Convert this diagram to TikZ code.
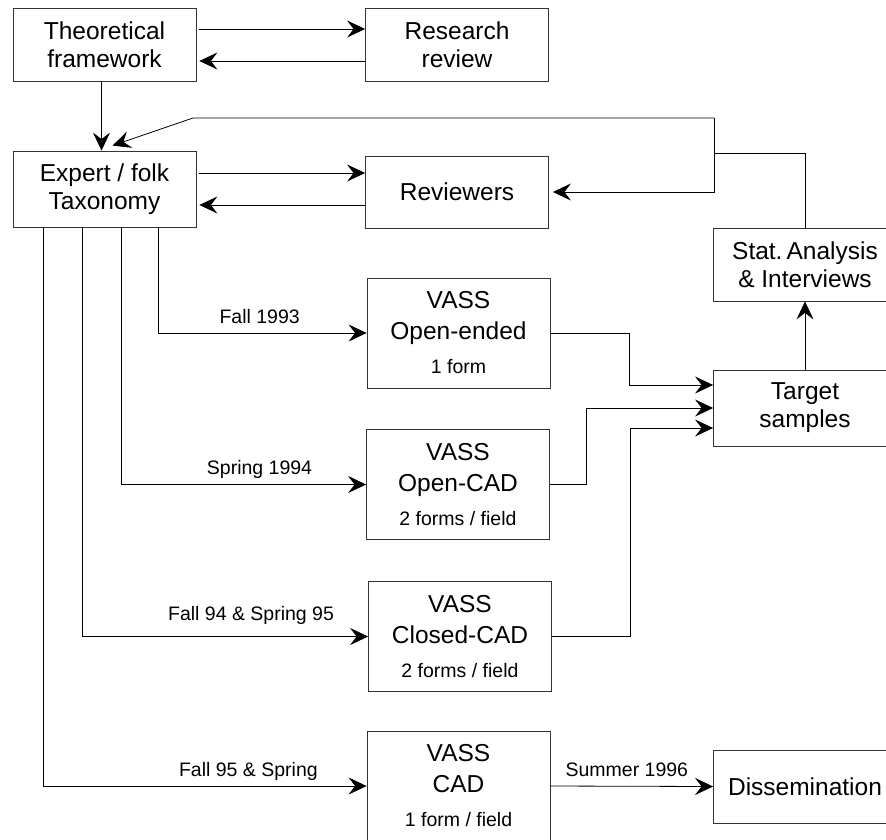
\documentclass[tikz,border=0pt]{standalone}
\usepackage{fontspec}
\setmainfont{Liberation Sans}
\usetikzlibrary{arrows.meta,calc}

\newcommand{\formtext}[1]{{\fontsize{19.5}{31}\selectfont #1}}

\begin{document}
\begin{tikzpicture}[
    x=1pt, y=-1pt,
    box/.style={rectangle, draw=black!80, line width=0.8pt, minimum width=183pt, minimum height=73pt, inner sep=0pt, align=center, font=\fontsize{24.5}{28}\selectfont},
    vass/.style={box, minimum height=110pt, font=\fontsize{24.5}{31}\selectfont},
    period/.style={anchor=base, yshift=10pt, font=\fontsize{19.5}{22}\selectfont},
    arrow/.style={-{Stealth[length=18pt, width=17pt, inset=6.5pt]}, line width=0.8pt},
    link/.style={line width=0.8pt}
]
    \useasboundingbox (0,0) rectangle (886,839);
    \clip (0,0) rectangle (886,839);

    % Top rows
    \node[box] (theory) at (104.5,45) {Theoretical\\framework};
    \node[box] (research) at (457,45) {Research\\review};
    \node[box, minimum height=76pt] (expert) at (104.5,189) {Expert / folk\\Taxonomy};
    \node[box, minimum height=72pt] (reviewers) at (457,192) {Reviewers};

    % VASS column
    \node[vass] (openended) at (458.5,333) {VASS\\Open-ended\\[3pt]\formtext{1 form}};
    \node[vass] (opencad) at (458,484.5) {VASS\\Open-CAD\\[3pt]\formtext{2 forms / field}};
    \node[vass] (closedcad) at (460,636.5) {VASS\\Closed-CAD\\[3pt]\formtext{2 forms / field}};
    \node[vass] (cad) at (458.5,786) {VASS\\CAD\\[3pt]\formtext{1 form / field}};

    % Right column
    \node[box] (stat) at (805,264.5) {Stat.\,Analysis\\\& Interviews};
    \node[box, minimum height=76pt] (target) at (805,408) {Target\\samples};
    \node[box] (dissem) at (805,786.5) {Dissemination};

    % Feedback loop
    \coordinate (fbtop) at (714,118);
    \coordinate (fbbend) at (193,118);
    \coordinate (fbsplit) at (714,153);

    % Arrows
    \draw[arrow] ($(theory.east)+(3,-16)$) -- ($(research.west)+(0,-16)$);
    \draw[arrow] ($(research.west)+(0,16)$) -- ($(theory.east)+(3,16)$);
    \draw[arrow] ([xshift=-3pt]theory.south) -- ([xshift=-3pt]expert.north);
    \draw[arrow] ($(expert.east)+(3,-16)$) -- ($(reviewers.west)+(0,-19)$);
    \draw[arrow] ($(reviewers.west)+(0,13)$) -- ($(expert.east)+(3,16)$);

    \draw[link] (stat.north) |- (fbsplit);
    \draw[arrow] (fbtop) |- ([xshift=4pt]reviewers.east);
    \draw[arrow] (fbtop) -- (fbbend) -- ($(expert.north)+(8,-5)$);

    \draw[arrow] ($(expert.south west)+(146,0)$) |- (openended.west) node[period, pos=0.743] {Fall 1993};
    \draw[arrow] ($(expert.south west)+(109,0)$) |- (opencad.west) node[period, pos=0.782] {Spring 1994};
    \draw[arrow] ($(expert.south west)+(70,0)$) |- (closedcad.west) node[period, pos=0.795, yshift=6pt] {Fall 94 \& Spring 95};
    \draw[arrow] ($(expert.south west)+(31,0)$) |- (cad.west) node[period, pos=0.817] {Fall 95 \& Spring};

    \draw[arrow] (openended.east) -- ++(79,0) |- ($(target.west)+(0,-23)$);
    \draw[arrow] (opencad.east) -- ++(36,0) |- (target.west);
    \draw[arrow] (closedcad.east) -- ++(78,0) |- ($(target.west)+(0,20)$);
    \draw[arrow] (target.north) -- (stat.south);
    \draw[arrow] (cad.east) -- (dissem.west) node[period, pos=0.47] {Summer 1996};

\end{tikzpicture}
\end{document}
